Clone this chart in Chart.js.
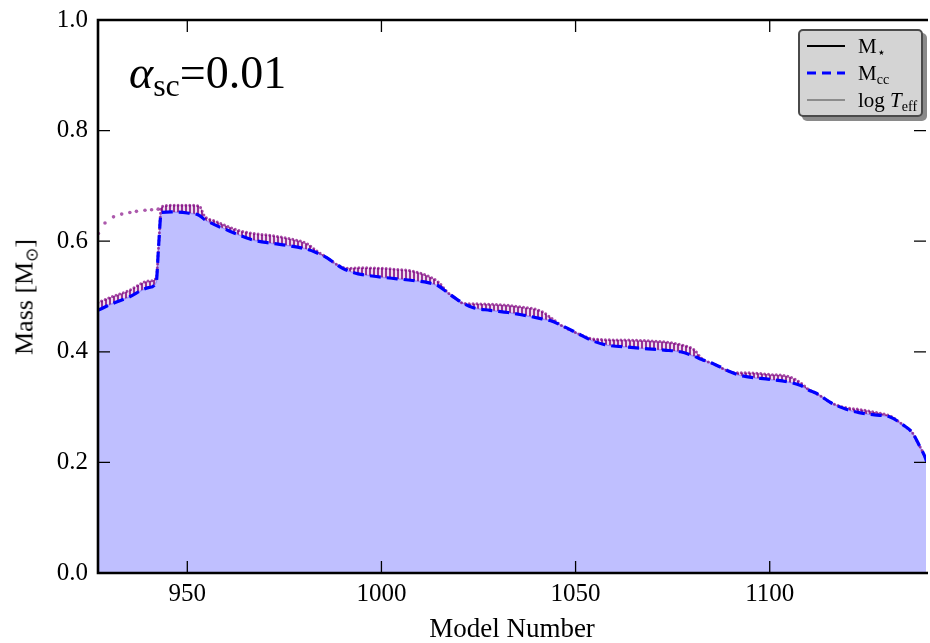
<!DOCTYPE html>
<html><head><meta charset="utf-8">
<script src="https://cdn.jsdelivr.net/npm/chart.js@4"></script>
<style>
html,body{margin:0;padding:0;background:#fff;overflow:hidden}
#wrap{position:relative;width:930px;height:643px}
#c{position:absolute;left:0;top:0}
.t{position:absolute;font-family:"Liberation Serif",serif;color:#000;white-space:nowrap}
#legend{position:absolute;left:798px;top:29px;width:121px;height:84px;background:#d4d4d4;border:2px solid #4a4a4a;border-radius:5px;box-shadow:4px 4px 0 #8a8a8a}
.row{position:absolute;left:0;height:22px;width:121px}
.row svg{position:absolute;left:7px;top:1px}
.row .t{left:58px;top:0;font-size:21px;line-height:22px}
.sub{font-size:14px;position:relative;top:4px}
</style></head>
<body>
<div id="wrap">
<canvas id="c" width="930" height="643"></canvas>
<div class="t" style="left:129px;top:50px;font-size:46px;line-height:46px"><i>α</i><span style="font-size:32px;position:relative;top:8px">sc</span>=0.01</div>
<div class="t" style="left:26px;top:297px;font-size:26px;line-height:26px;transform:translate(-50%,-50%) rotate(-90deg)">Mass [M<span style="font-size:17px;position:relative;top:5px">⊙</span>]</div>
<div id="legend">
  <div class="row" style="top:4px"><svg width="40" height="20"><line x1="0" y1="10" x2="38" y2="10" stroke="#000" stroke-width="2"/></svg><div class="t">M<span class="sub">⋆</span></div></div>
  <div class="row" style="top:31px"><svg width="40" height="20"><line x1="0" y1="10" x2="38" y2="10" stroke="#0000ff" stroke-width="3" stroke-dasharray="9,6"/></svg><div class="t">M<span class="sub">cc</span></div></div>
  <div class="row" style="top:58px"><svg width="40" height="20"><line x1="0" y1="10" x2="38" y2="10" stroke="#8c8c8c" stroke-width="2"/></svg><div class="t">log <i>T</i><span class="sub">eff</span></div></div>
</div>
</div>
<script>
// ---- data ----
const modelNumbers = [927,930,935,940,942,942.6,943.3,946,950,953,954.5,957,960,963.4,967,972,976,981,983,986,988,990,992,994,1000,1004,1008,1012,1014.7,1017,1019,1021,1023.5,1028,1032.6,1036,1041,1043.6,1046.3,1050.6,1054,1057.5,1064.2,1072.8,1077,1080.5,1082.5,1085.6,1089.8,1092,1094,1100,1105,1108,1110,1112,1116,1119.7,1123,1127,1131,1134.3,1136.8,1138.5,1139.8,1141];
const massCC = [0.475,0.485,0.499,0.516,0.526,0.590,0.652,0.653,0.651,0.647,0.639,0.630,0.621,0.611,0.602,0.596,0.592,0.585,0.580,0.570,0.560,0.551,0.545,0.541,0.535,0.532,0.529,0.525,0.519,0.507,0.497,0.488,0.480,0.475,0.471,0.467,0.460,0.456,0.448,0.433,0.421,0.413,0.408,0.403,0.400,0.392,0.386,0.378,0.364,0.358,0.355,0.350,0.345,0.339,0.331,0.325,0.307,0.296,0.290,0.286,0.282,0.268,0.253,0.231,0.213,0.190];
const stackTop = [0.489,0.498,0.511,0.528,0.533,0.590,0.662,0.665,0.665,0.664,0.645,0.637,0.628,0.619,0.614,0.610,0.605,0.595,0.584,0.570,0.560,0.553,0.551,0.552,0.551,0.549,0.546,0.537,0.526,0.508,0.497,0.488,0.487,0.486,0.484,0.481,0.474,0.462,0.448,0.433,0.424,0.422,0.421,0.418,0.413,0.404,0.388,0.378,0.364,0.362,0.362,0.359,0.355,0.344,0.332,0.325,0.307,0.299,0.296,0.291,0.284,0.268,0.253,0.231,0.213,0.190];
const arcModels = [927.1,928.8,931.0,933.1,935.2,936.9,939.1,940.8,942.5];
const arcMass = [0.614,0.633,0.644,0.649,0.652,0.654,0.656,0.657,0.658];
const xTickValues = [950,1000,1050,1100];
const yTickValues = [0,0.2,0.4,0.6,0.8,1.0];

const pts = (xs, ys) => xs.map((x,i)=>({x:x,y:ys[i]}));

function dotPattern(){
  const c=document.createElement('canvas'); c.width=4; c.height=2;
  const g=c.getContext('2d');
  g.fillStyle='rgba(125,0,125,0.8)';
  g.beginPath(); g.arc(2,1,1.3,0,Math.PI*2); g.fill();
  return g.createPattern(c,'repeat');
}

const font = {family:"'Liberation Serif', serif", size:25};

const framePlugin = {
  id:'frame',
  afterDraw(chart){
    const ctx=chart.ctx, a=chart.chartArea, x=chart.scales.x, y=chart.scales.y;
    ctx.save();
    ctx.strokeStyle='#000';
    ctx.lineWidth=1.3;
    ctx.beginPath();
    xTickValues.forEach(v=>{const p=x.getPixelForValue(v); ctx.moveTo(p,a.bottom); ctx.lineTo(p,a.bottom-12); ctx.moveTo(p,a.top); ctx.lineTo(p,a.top+12);});
    yTickValues.forEach(v=>{const p=y.getPixelForValue(v); ctx.moveTo(a.left,p); ctx.lineTo(a.left+12,p); ctx.moveTo(a.right,p); ctx.lineTo(a.right-12,p);});
    ctx.stroke();
    ctx.lineWidth=2.6;
    ctx.beginPath();
    ctx.moveTo(a.right+2,a.top); ctx.lineTo(a.left,a.top); ctx.lineTo(a.left,a.bottom); ctx.lineTo(a.right+2,a.bottom);
    ctx.stroke();
    ctx.restore();
  }
};

new Chart(document.getElementById('c'), {
  type:'line',
  data:{datasets:[
    {label:'area', data:pts(modelNumbers,massCC), fill:'origin', backgroundColor:'rgba(0,0,255,0.25)', borderColor:'rgba(90,90,255,0.45)', borderWidth:1.5, pointRadius:0, cubicInterpolationMode:'monotone', order:3},
    {label:'dots', data:pts(modelNumbers,stackTop), fill:'-1', backgroundColor:dotPattern(), borderColor:'rgba(128,0,128,0.7)', borderWidth:3, borderDash:[0,3.9], borderCapStyle:'round', pointRadius:0, cubicInterpolationMode:'monotone', order:2},
    {label:'arc', data:pts(arcModels,arcMass), showLine:false, pointRadius:1.8, pointBorderWidth:0, pointBackgroundColor:'rgba(128,0,128,0.65)', order:1},
    {label:'Mcc', data:pts(modelNumbers,massCC), fill:false, borderColor:'#0000ff', borderWidth:3.2, borderDash:[11,6], pointRadius:0, cubicInterpolationMode:'monotone', order:0}
  ]},
  options:{
    responsive:false, animation:false,
    layout:{padding:{top:20,right:0,bottom:0,left:0}},
    plugins:{legend:{display:false}, tooltip:{enabled:false}},
    scales:{
      x:{type:'linear', min:927, max:1140.25,
         grid:{display:false, drawTicks:false}, border:{display:false},
         ticks:{font:font, color:'#000', padding:6, callback:v=>String(v)},
         afterBuildTicks:s=>{s.ticks=xTickValues.map(v=>({value:v}));},
         afterFit:s=>{s.height=70; s.paddingLeft=0; s.paddingRight=0;},
         title:{display:true, text:'Model Number', font:{family:"'Liberation Serif', serif", size:27}, color:'#000', padding:{top:0,bottom:-3}}},
      y:{type:'linear', min:0, max:1,
         grid:{display:false, drawTicks:false}, border:{display:false},
         ticks:{font:font, color:'#000', padding:10, callback:v=>Number(v).toFixed(1)},
         afterBuildTicks:s=>{s.ticks=yTickValues.map(v=>({value:v}));},
         afterFit:s=>{s.width=98; s.paddingTop=0; s.paddingBottom=0;}}
    }
  },
  plugins:[framePlugin]
});
</script>
</body></html>
